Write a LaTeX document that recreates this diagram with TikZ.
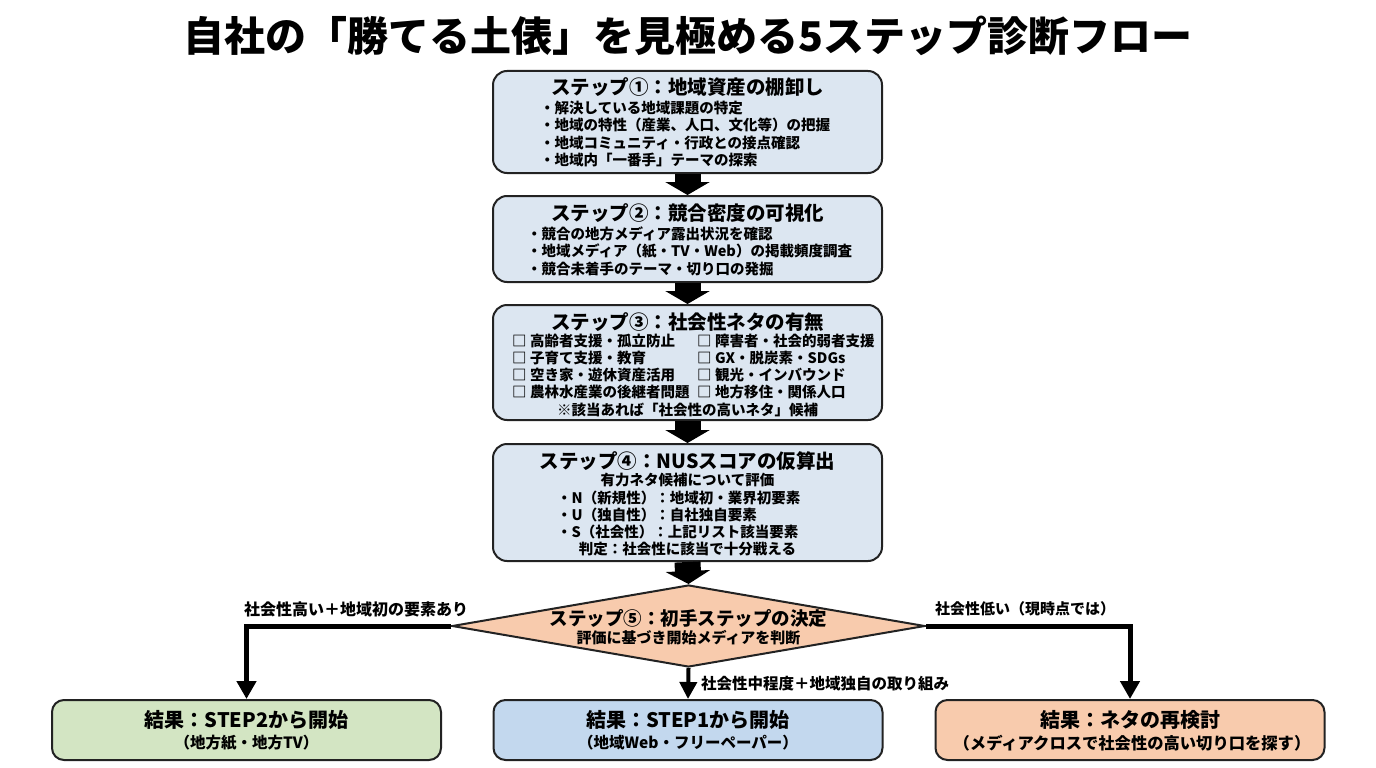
\documentclass[tikz,border=0pt]{standalone}
\usepackage{fontspec}
\setmainfont{Noto Sans CJK JP}
\usetikzlibrary{shapes.geometric,arrows.meta}
\definecolor{boxblue}{HTML}{DCE6F1}
\definecolor{peach}{HTML}{F8CBAD}
\definecolor{resgreen}{HTML}{D3E5C3}
\definecolor{resblue}{HTML}{C3D8EE}
\definecolor{edge}{HTML}{222222}
\begin{document}
\begin{tikzpicture}[x=1pt,y=-1pt,
  stepbox/.style={draw=edge, line width=2pt, rounded corners=14pt, fill=boxblue, minimum width=389pt, inner sep=0pt},
  resbox/.style={draw=edge, line width=2pt, rounded corners=12pt, minimum width=389pt, minimum height=60pt, inner sep=0pt},
  steptitle/.style={font=\fontsize{19.5}{22}\selectfont\bfseries, inner sep=0pt},
  body/.style={font=\fontsize{14.5}{17.6}\selectfont\bfseries, inner sep=0pt, align=left},
  bodyc/.style={font=\fontsize{14.5}{17.6}\selectfont\bfseries, inner sep=0pt},
  lbl/.style={font=\fontsize{15.5}{17}\selectfont\bfseries, inner sep=0pt},
  restitle/.style={font=\fontsize{20}{22}\selectfont\bfseries, inner sep=0pt},
  ressub/.style={font=\fontsize{15.5}{17}\selectfont\bfseries, inner sep=0pt},
  bigarrow/.style={line width=26pt, -{Triangle[width=44pt,length=13pt]}},
  flowarrow/.style={line width=5pt, -{Triangle[width=19pt,length=18pt]}},
]
\useasboundingbox[fill=white] (0,0) rectangle (1376,768);

\node[font=\fontsize{41}{46}\selectfont\bfseries, inner sep=0pt] (title) at (688,36) {自社の「勝てる土俵」を見極める5ステップ診断フロー};

% Step 1
\node[stepbox, minimum height=102pt] (s1) at (687.5,122) {};
\node[steptitle] (s1t) at (687.5,87) {ステップ①：地域資産の棚卸し};
\node[body, anchor=west] (s1b) at (540,134) {・解決している地域課題の特定\\・地域の特性（産業、人口、文化等）の把握\\・地域コミュニティ・行政との接点確認\\・地域内「一番手」テーマの探索};

% Step 2
\node[stepbox, minimum height=86pt] (s2) at (687.5,239) {};
\node[steptitle] (s2t) at (687.5,213) {ステップ②：競合密度の可視化};
\node[body, anchor=west] (s2b) at (527,251) {・競合の地方メディア露出状況を確認\\・地域メディア（紙・TV・Web）の掲載頻度調査\\・競合未着手のテーマ・切り口の発掘};

% Step 3
\node[stepbox, minimum height=115pt] (s3) at (687.5,362.5) {};
\node[steptitle] (s3t) at (687.5,322) {ステップ③：社会性ネタの有無};
\node[body, anchor=west, font=\fontsize{14.5}{17}\selectfont\bfseries] (s3l) at (512,367) {□ 高齢者支援・孤立防止\\□ 子育て支援・教育\\□ 空き家・遊休資産活用\\□ 農林水産業の後継者問題};
\node[body, anchor=west, font=\fontsize{14.5}{17}\selectfont\bfseries] (s3r) at (697,367) {□ 障害者・社会的弱者支援\\□ GX・脱炭素・SDGs\\□ 観光・インバウンド\\□ 地方移住・関係人口};
\node[bodyc] (s3n) at (687.5,410) {※該当あれば「社会性の高いネタ」候補};

% Step 4
\node[stepbox, minimum height=117pt] (s4) at (687.5,502.5) {};
\node[steptitle] (s4t) at (687.5,461) {ステップ④：NUSスコアの仮算出};
\node[bodyc] (s4a) at (687.5,480) {有力ネタ候補について評価};
\node[body, anchor=west, font=\fontsize{14.5}{17}\selectfont\bfseries] (s4b) at (557,515) {・N（新規性）：地域初・業界初要素\\・U（独自性）：自社独自要素\\・S（社会性）：上記リスト該当要素};
\node[bodyc] (s4c) at (687.5,549) {判定：社会性に該当で十分戦える};

% Step 5 diamond
\node[diamond, draw=edge, line width=2pt, fill=peach, minimum width=473pt, minimum height=82pt, inner sep=0pt] (d) at (688.5,626) {};
\node[font=\fontsize{18.5}{21}\selectfont\bfseries, inner sep=0pt] (dt) at (688.5,618) {ステップ⑤：初手ステップの決定};
\node[font=\fontsize{15}{17}\selectfont\bfseries, inner sep=0pt] (ds) at (688.5,638) {評価に基づき開始メディアを判断};

% Results
\node[resbox, fill=resgreen] (r1) at (246.5,730) {};
\node[resbox, fill=resblue] (r2) at (688,730) {};
\node[resbox, fill=peach] (r3) at (1130,730) {};
\node[restitle] (r1t) at (246.5,720) {結果：STEP2から開始};
\node[ressub] (r1s) at (246.5,743) {（地方紙・地方TV）};
\node[restitle] (r2t) at (688,720) {結果：STEP1から開始};
\node[ressub] (r2s) at (688,743) {（地域Web・フリーペーパー）};
\node[restitle] (r3t) at (1130,720) {結果：ネタの再検討};
\node[ressub, font=\fontsize{16.3}{18}\selectfont\bfseries] (r3s) at (1132,743) {（メディアクロスで社会性の高い切り口を探す）};

% Block arrows between steps
\draw[bigarrow] (s1.south) -- (s2.north);
\draw[bigarrow] (s2.south) -- (s3.north);
\draw[bigarrow] (s3.south) -- (s4.north);
\draw[bigarrow] (s4.south) -- (d.north);

% Branches
\draw[flowarrow] (d.west) -| (r1.north);
\draw[flowarrow] (d.east) -| (r3.north);
\draw[line width=4pt, -{Triangle[width=17pt,length=17pt]}] (d.south) -- (r2.north);

\node[lbl, font=\fontsize{16}{18}\selectfont\bfseries] (l1) at (356,609) {社会性高い＋地域初の要素あり};
\node[lbl, font=\fontsize{15}{17}\selectfont\bfseries] (l3) at (1025,609) {社会性低い（現時点では）};
\node[lbl, anchor=west] (l2) at (701,684) {社会性中程度＋地域独自の取り組み};
\end{tikzpicture}
\end{document}
